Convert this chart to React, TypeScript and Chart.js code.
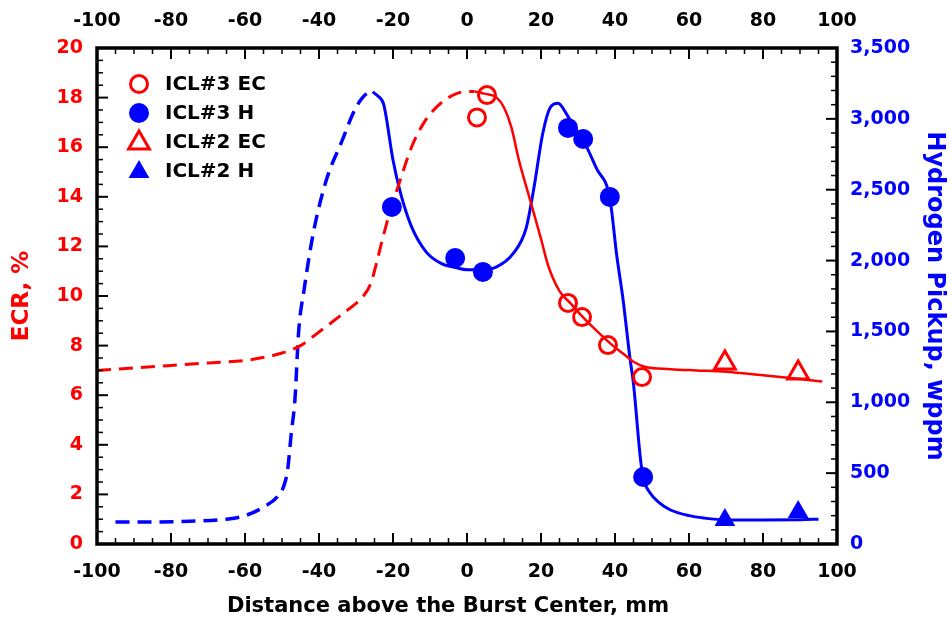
import React, { useEffect, useRef } from 'react';
import { Chart, registerables } from 'chart.js';

Chart.register(...registerables);

// ---- tick labels ----
const xTickValues = [-100, -80, -60, -40, -20, 0, 20, 40, 60, 80, 100];
const ecrTickValues = [0, 2, 4, 6, 8, 10, 12, 14, 16, 18, 20];
const hTickValues = [0, 500, 1000, 1500, 2000, 2500, 3000, 3500];

// ---- measured points ----
const icl3EcX = [2.7, 5.4, 27.3, 31.1, 38.1, 47.3];
const icl3EcY = [17.2, 18.1, 9.72, 9.15, 8.02, 6.73];
const icl3HX = [-20.3, -3.2, 4.3, 27.3, 31.4, 38.6, 47.6];
const icl3HY = [2378, 2018, 1920, 2936, 2858, 2449, 473];
const icl2EcX = [69.7, 89.5];
const icl2EcY = [7.3, 6.9];
const icl2HX = [69.7, 89.5];
const icl2HY = [169, 226];

// ---- fitted curves ----
const ecrDashX = [-100, -90, -80, -70, -60, -54, -50, -45, -40, -36, -33, -30, -28, -26, -24.5, -23, -21, -18, -15, -12, -9, -6, -3, 0, 2];
const ecrDashY = [7.0, 7.1, 7.2, 7.3, 7.4, 7.55, 7.7, 8.0, 8.55, 9.0, 9.35, 9.7, 10.0, 10.5, 11.3, 12.2, 13.3, 14.7, 16.0, 16.9, 17.5, 17.9, 18.15, 18.25, 18.25];
const ecrSolidX = [2, 5, 8, 10, 12, 14, 17, 20, 22, 25, 28, 31, 35, 39, 42, 45, 48, 55, 62, 70, 80, 90, 96];
const ecrSolidY = [18.25, 18.15, 18.0, 17.6, 16.8, 15.5, 13.9, 12.3, 11.2, 10.2, 9.7, 9.2, 8.6, 8.05, 7.7, 7.35, 7.15, 7.05, 7.0, 6.95, 6.8, 6.65, 6.55];
const hDashX = [-95, -85, -75, -65, -60, -55, -51, -49.5, -48.5, -47.5, -46.5, -45.5, -44, -41.5, -38, -34, -30, -27, -25.5];
const hDashY = [155, 155, 160, 175, 200, 260, 340, 410, 520, 780, 1020, 1500, 1800, 2200, 2570, 2830, 3080, 3180, 3190];
const hSolidX = [-25.5, -24, -22.5, -20, -18, -15, -11, -7, -3, 0, 4, 8, 12.5, 16, 18, 20.5, 22.5, 24.6, 27, 29, 31.4, 35, 38.6, 40.5, 42.2, 44, 45, 46.8, 47.6, 49.5, 52, 55, 60, 64, 70, 80, 90, 95];
const hSolidY = [3190, 3160, 3100, 2710, 2480, 2240, 2060, 1980, 1950, 1935, 1935, 1955, 2050, 2230, 2500, 2900, 3080, 3110, 3030, 2940, 2850, 2650, 2440, 2030, 1720, 1320, 1130, 620, 470, 360, 290, 240, 200, 183, 170, 170, 172, 175];

const legendLabels = ['ICL#3 EC', 'ICL#3 H', 'ICL#2 EC', 'ICL#2 H'];
const xTitle = 'Distance above the Burst Center, mm';

const RED = '#ff0000';
const BLUE = '#0000ff';
const FONT = "'DejaVu Sans', sans-serif";
const DASH = [14, 8];

const pts = (xs: number[], ys: number[]) => xs.map((x, i) => ({ x, y: ys[i] }));

function drawMarker(ctx: CanvasRenderingContext2D, kind: number, x: number, y: number) {
  ctx.save();
  ctx.setLineDash([]);
  ctx.beginPath();
  if (kind === 0 || kind === 1) {
    ctx.arc(x, y, kind === 0 ? 8.5 : 10, 0, Math.PI * 2);
  } else {
    const r = 12;
    for (let k = 0; k < 3; k++) {
      const a = -Math.PI / 2 + (k * 2 * Math.PI) / 3;
      const px = x + r * Math.cos(a);
      const py = y + r * Math.sin(a);
      if (k === 0) ctx.moveTo(px, py);
      else ctx.lineTo(px, py);
    }
    ctx.closePath();
  }
  if (kind === 0 || kind === 2) {
    ctx.strokeStyle = RED;
    ctx.lineWidth = 3;
    ctx.stroke();
  } else {
    ctx.fillStyle = BLUE;
    ctx.fill();
  }
  ctx.restore();
}

const framePlugin = {
  id: 'frame',
  afterDatasetsDraw(chart: any) {
    const { ctx, chartArea: a, scales } = chart;
    ctx.save();
    ctx.strokeStyle = '#000';
    ctx.setLineDash([]);
    const seg = (x1: number, y1: number, x2: number, y2: number, w: number) => {
      ctx.lineWidth = w;
      ctx.beginPath();
      ctx.moveTo(x1, y1);
      ctx.lineTo(x2, y2);
      ctx.stroke();
    };
    for (let v = -100; v <= 100; v += 5) {
      const px = scales.x.getPixelForValue(v);
      const major = v % 20 === 0;
      const len = major ? 11 : 6;
      seg(px, a.bottom, px, a.bottom - len, major ? 2 : 1.5);
      seg(px, a.top, px, a.top + len, major ? 2 : 1.5);
    }
    for (let i = 0; i <= 40; i++) {
      const v = i * 0.5;
      const py = scales.y.getPixelForValue(v);
      const major = i % 4 === 0;
      seg(a.left, py, a.left + (major ? 11 : 6), py, major ? 2 : 1.5);
    }
    for (let v = 0; v <= 3500; v += 100) {
      const py = scales.y2.getPixelForValue(v);
      const major = v % 500 === 0;
      seg(a.right, py, a.right - (major ? 11 : 6), py, major ? 2 : 1.5);
    }
    ctx.lineWidth = 3.5;
    ctx.strokeRect(a.left, a.top, a.right - a.left, a.bottom - a.top);

    // legend
    const lx = a.left + 42;
    const ly0 = a.top + 36;
    const dy = 29;
    ctx.font = `bold 20px ${FONT}`;
    ctx.fillStyle = '#000';
    ctx.textBaseline = 'middle';
    ctx.textAlign = 'left';
    legendLabels.forEach((label, i) => {
      const y = ly0 + i * dy;
      drawMarker(ctx, i, lx, y + (i >= 2 ? 1 : 0));
      ctx.fillText(label, lx + 26, y + 1);
    });

    // bottom axis title
    ctx.font = `bold 21px ${FONT}`;
    ctx.textAlign = 'center';
    ctx.fillText(xTitle, (a.left + a.right) / 2 - 19, 607);
    ctx.restore();
  },
};

export default function App() {
  const ref = useRef<HTMLCanvasElement | null>(null);

  useEffect(() => {
    if (!ref.current) return;
    const lineBase = {
      type: 'line' as const,
      pointRadius: 0,
      pointHoverRadius: 0,
      fill: false,
      cubicInterpolationMode: 'monotone' as const,
      order: 2,
    };
    const dashed = { borderDash: DASH, segment: { borderDash: () => DASH } };
    const chart = new Chart(ref.current, {
      type: 'scatter',
      data: {
        datasets: [
          { ...lineBase, ...dashed, data: pts(ecrDashX, ecrDashY), borderColor: RED, borderWidth: 3, yAxisID: 'y' },
          { ...lineBase, data: pts(ecrSolidX, ecrSolidY), borderColor: RED, borderWidth: 2.5, yAxisID: 'y' },
          { ...lineBase, ...dashed, data: pts(hDashX, hDashY), borderColor: BLUE, borderWidth: 3.5, yAxisID: 'y2' },
          { ...lineBase, data: pts(hSolidX, hSolidY), borderColor: BLUE, borderWidth: 3, yAxisID: 'y2' },
          {
            label: legendLabels[0], data: pts(icl3EcX, icl3EcY), yAxisID: 'y', showLine: false, order: 1,
            pointStyle: 'circle', pointRadius: 8.5, borderWidth: 3, borderColor: RED, backgroundColor: 'rgba(0,0,0,0)',
          },
          {
            label: legendLabels[1], data: pts(icl3HX, icl3HY), yAxisID: 'y2', showLine: false, order: 1,
            pointStyle: 'circle', pointRadius: 10, borderWidth: 0, borderColor: BLUE, backgroundColor: BLUE,
          },
          {
            label: legendLabels[2], data: pts(icl2EcX, icl2EcY), yAxisID: 'y', showLine: false, order: 1,
            pointStyle: 'triangle', pointRadius: 12, borderWidth: 3, borderColor: RED, backgroundColor: 'rgba(0,0,0,0)',
          },
          {
            label: legendLabels[3], data: pts(icl2HX, icl2HY), yAxisID: 'y2', showLine: false, order: 1,
            pointStyle: 'triangle', pointRadius: 12, borderWidth: 0, borderColor: BLUE, backgroundColor: BLUE,
          },
        ] as any,
      },
      options: {
        responsive: false,
        animation: false,
        events: [],
        layout: { padding: 0 },
        plugins: { legend: { display: false }, tooltip: { enabled: false } },
        scales: {
          x: {
            type: 'linear', position: 'bottom', min: -100, max: 100,
            afterBuildTicks: (s: any) => { s.ticks = xTickValues.map((v) => ({ value: v })); },
            afterFit: (s: any) => { s.height = 81; },
            grid: { display: false, drawTicks: false },
            border: { display: false },
            ticks: { color: '#000', padding: 17, maxRotation: 0, font: { family: FONT, weight: 'bold', size: 19 } },
          },
          x2: {
            type: 'linear', position: 'top', min: -100, max: 100,
            afterBuildTicks: (s: any) => { s.ticks = xTickValues.map((v) => ({ value: v })); },
            afterFit: (s: any) => { s.height = 48; },
            grid: { display: false, drawTicks: false },
            border: { display: false },
            ticks: { color: '#000', padding: 16, maxRotation: 0, font: { family: FONT, weight: 'bold', size: 19 } },
          },
          y: {
            type: 'linear', position: 'left', min: 0, max: 20,
            afterBuildTicks: (s: any) => { s.ticks = ecrTickValues.map((v) => ({ value: v })); },
            afterFit: (s: any) => { s.width = 97; },
            grid: { display: false, drawTicks: false },
            border: { display: false },
            ticks: { color: RED, padding: 14, font: { family: FONT, weight: 'bold', size: 19 } },
            title: { display: true, text: 'ECR, %', color: RED, padding: { top: 8, bottom: 0 }, font: { family: FONT, weight: 'bold', size: 23 } },
          },
          y2: {
            type: 'linear', position: 'right', min: 0, max: 3500,
            afterBuildTicks: (s: any) => { s.ticks = hTickValues.map((v) => ({ value: v })); },
            afterFit: (s: any) => { s.width = 114; },
            grid: { display: false, drawTicks: false },
            border: { display: false },
            ticks: { color: BLUE, padding: 13, font: { family: FONT, weight: 'bold', size: 19 }, callback: (v: any) => Number(v).toLocaleString('en-US') },
            title: { display: true, text: 'Hydrogen Pickup, wppm', color: BLUE, padding: { top: 2, bottom: 0 }, font: { family: FONT, weight: 'bold', size: 24 } },
          },
        },
      } as any,
      plugins: [framePlugin],
    });
    return () => chart.destroy();
  }, []);

  return (
    <div style={{ position: 'fixed', left: 0, top: 0, width: 951, height: 625, background: '#fff' }}>
      <canvas ref={ref} width={951} height={625} style={{ display: 'block', width: 951, height: 625 }} />
    </div>
  );
}
